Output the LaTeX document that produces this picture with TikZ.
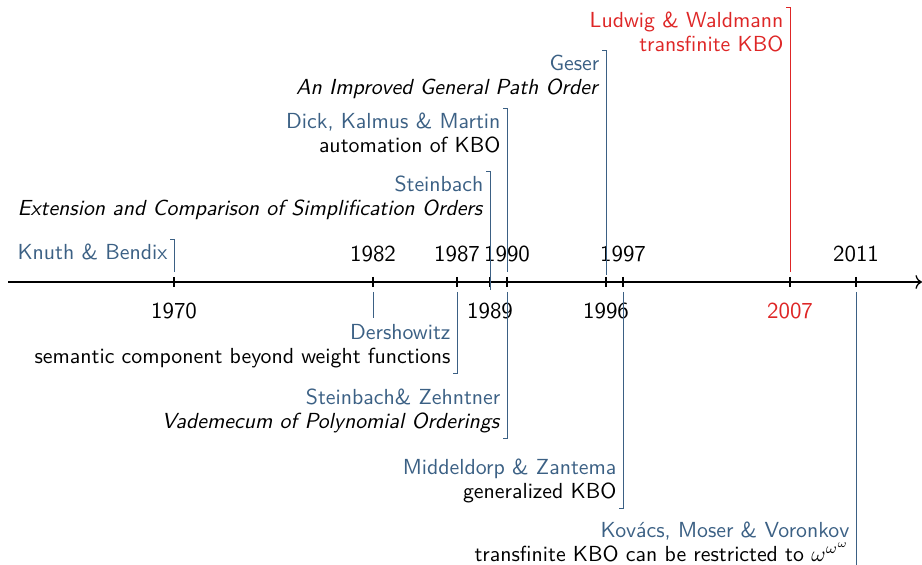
\documentclass[tikz,border=0pt]{standalone}
\usepackage{tikz}
\usetikzlibrary{positioning, arrows.meta}
\definecolor{authorblue}{RGB}{59,96,132}
\definecolor{hotred}{RGB}{222,38,38}

\begin{document}
\begin{tikzpicture}[
  x=0.4587pt, y=-0.4587pt,
  every node/.style={font=\sffamily},
  year/.style={font=\sffamily\fontsize{10.5}{12}\selectfont},
  evlabel/.style={align=right, inner xsep=1pt, inner ysep=2pt,
    font=\sffamily\fontsize{10}{11.2}\selectfont},
  evbar/.style={authorblue, line width=0.4pt},
  timeline/.style={line width=0.6pt}
]
\useasboundingbox (0,0) rectangle (922,565);

% axis and ticks
\coordinate (t0) at (8,282);
\coordinate (t1) at (922,282);
\draw[timeline, -{To[length=3pt]}] (t0) -- (t1);
\foreach \xp in {174,373,457,490,507,606,623,790,856}
  \draw[timeline] (\xp,277) -- (\xp,287);

% years
\foreach \yr/\xp in {1982/373,1987/457,1990/507,1997/623,2011/856}
  \node[year] (a\yr) at (\xp,254) {\yr};
\foreach \yr/\xp in {1970/174,1989/490,1996/606}
  \node[year] (b\yr) at (\xp,311) {\yr};
\node[year, text=hotred] (b2007) at (790,311) {2007};

% events above the axis: name, x, top, end, colour, text
\def\evup#1#2#3#4#5#6{%
  \coordinate (#1-end) at (#2,#4);
  \node[evlabel, anchor=north east] (#1) at (#2-4,#3) {#6};
  \draw[evbar, #5] (#1.north east) -| (#1-end);
}
% events below the axis: name, x, start, bottom, colour, text
\def\evdown#1#2#3#4#5#6{%
  \coordinate (#1-start) at (#2,#3);
  \node[evlabel, anchor=south east] (#1) at (#2-4,#4) {#6};
  \draw[evbar, #5] (#1-start) |- (#1.south east);
}

\evup{knuth}{174}{239}{272}{}{\textcolor{authorblue}{Knuth \& Bendix}}
\evup{steinbach}{490}{171}{290}{}{\textcolor{authorblue}{Steinbach}\\
  \textit{Extension and Comparison of Simplification Orders}}
\evup{dick}{507}{108}{272}{}{\textcolor{authorblue}{Dick, Kalmus \& Martin}\\
  automation of KBO}
\evup{geser}{606}{50}{275}{}{\textcolor{authorblue}{Geser}\\
  \textit{An Improved General Path Order}}
\evup{ludwig}{790}{7}{272}{hotred}{\textcolor{hotred}{Ludwig \& Waldmann}\\
  \textcolor{hotred}{transfinite KBO}}

\coordinate (s1982) at (373,292);
\coordinate (e1982) at (373,318);
\draw[evbar] (s1982) -- (e1982);

\evdown{dershowitz}{457}{292}{373}{}{\textcolor{authorblue}{Dershowitz}\\
  semantic component beyond weight functions}
\evdown{zehntner}{507}{292}{438}{}{\textcolor{authorblue}{Steinbach\& Zehntner}\\
  \textit{Vademecum of Polynomial Orderings}}
\evdown{middeldorp}{623}{292}{508}{}{\textcolor{authorblue}{Middeldorp \& Zantema}\\
  generalized KBO}

% last one runs off the bottom
\coordinate (s2011) at (856,292);
\coordinate (e2011) at (856,575);
\node[evlabel, anchor=south east] (kovacs) at (852,567)
  {\textcolor{authorblue}{Kov\'acs, Moser \& Voronkov}\\
  transfinite KBO can be restricted to $\omega^{\omega^{\omega}}$};
\draw[evbar] (s2011) -- (e2011);
\end{tikzpicture}
\end{document}
